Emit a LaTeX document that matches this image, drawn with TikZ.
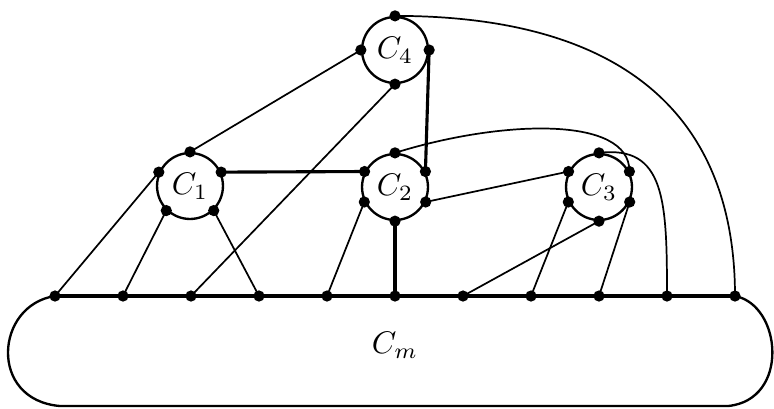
\documentclass[tikz,border=0pt]{standalone}
\usepackage{tikz}
\usetikzlibrary{calc}
\begin{document}
\begin{tikzpicture}[x=0.32pt,y=-0.32pt,
  cyc/.style={circle,draw,line width=0.75pt,minimum size=21.1pt,inner sep=0pt},
  edge/.style={line width=0.55pt},
  heavy/.style={line width=1pt}]
  \useasboundingbox (0,0) rectangle (774,408);
  % the four small cycles
  \node[cyc] (c4) at (395,50) {$C_4$};
  \node[cyc] (c1) at (190,186) {$C_1$};
  \node[cyc] (c2) at (395,187) {$C_2$};
  \node[cyc] (c3) at (599,187) {$C_3$};
  \coordinate (c4t) at (c4.90); \coordinate (c4l) at (c4.180);
  \coordinate (c4r) at (c4.0); \coordinate (c4b) at (c4.270);
  \coordinate (c1t) at (c1.90); \coordinate (c1l) at (c1.156); \coordinate (c1r) at (c1.24);
  \coordinate (c1bl) at (c1.226); \coordinate (c1br) at (c1.-46);
  \foreach \c in {c2,c3} {
    \coordinate (\c t) at (\c.90); \coordinate (\c l) at (\c.153); \coordinate (\c r) at (\c.27);
    \coordinate (\c bl) at (\c.206); \coordinate (\c br) at (\c.-26); \coordinate (\c b) at (\c.270);
  }
  % the big cycle C_m
  \foreach \i in {0,...,10} \coordinate (m\i) at ({55+68*\i},296);
  \draw[line width=0.75pt] (m0) .. controls (-5,305) and (-12,400) .. (60,406) -- (728,406)
    .. controls (790,400) and (782,305) .. (m10);
  \draw[heavy] (m0) -- (m10);
  \node (cm) at (395,345) {$C_m$};
  % connections
  \draw[edge] (c4l) -- (c1t);
  \draw[edge] (c4b) -- (m2);
  \draw[heavy] (c4r) -- (c2r);
  \draw[heavy] (c1r) -- (c2l);
  \draw[edge] (c1l) -- (m0);
  \draw[edge] (c1bl) -- (m1);
  \draw[edge] (c1br) -- (m3);
  \draw[edge] (c2bl) -- (m4);
  \draw[heavy] (c2b) -- (m5);
  \draw[edge] (c2br) -- (c3l);
  \draw[edge] (c3b) -- (m6);
  \draw[edge] (c3bl) -- (m7);
  \draw[edge] (c3br) -- (m8);
  \draw[edge] (c4t) .. controls (640,16) and (735,130) .. (m10);
  \draw[edge] (c2t) .. controls (500,120) and (630,115) .. (c3r);
  \draw[edge] (c3t) .. controls (665,145) and (667,200) .. (m9);
  % vertices
  \foreach \p in {c4t,c4l,c4r,c4b,c1t,c1l,c1r,c1bl,c1br,c2t,c2l,c2r,c2bl,c2br,c2b,
                  c3t,c3l,c3r,c3bl,c3br,c3b,m0,m1,m2,m3,m4,m5,m6,m7,m8,m9,m10}
    \fill (\p) circle (1.8pt);
\end{tikzpicture}
\end{document}
